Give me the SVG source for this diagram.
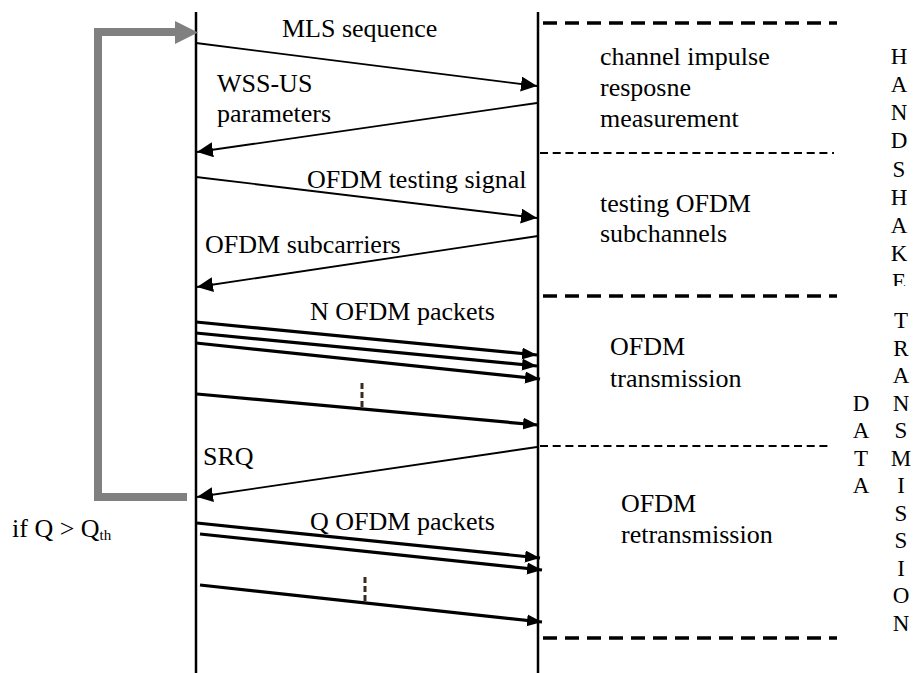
<svg xmlns="http://www.w3.org/2000/svg" width="918" height="673" viewBox="0 0 918 673">
  <style>
    text { font-family: "Liberation Serif", "Times New Roman", serif; font-size: 26px; fill: #000; }
    .life { stroke: #000; stroke-width: 2.5; fill: none; }
    .msg { stroke: #000; stroke-width: 1.8; fill: none; marker-end: url(#arrow); }
    .pkt { stroke: #000; stroke-width: 3.2; fill: none; marker-end: url(#arrowPkt); }
    .dots { stroke: #3a2a20; stroke-width: 3; stroke-dasharray: 6 3; fill: none; }
    .thick-div { stroke: #000; stroke-width: 3.5; stroke-dasharray: 14 8; fill: none; }
    .thin-div { stroke: #000; stroke-width: 1.8; stroke-dasharray: 8 4.7; fill: none; }
    .loop { stroke: #808080; stroke-width: 8; fill: none; }
    .vert { text-anchor: middle; font-size: 23px; }
  </style>
  <defs>
    <marker id="arrow" markerUnits="userSpaceOnUse" markerWidth="17" markerHeight="16" refX="16" refY="7.5" orient="auto">
      <path d="M0,0 L16,7.5 L0,15 Z" fill="#000"/>
    </marker>
    <marker id="arrowPkt" markerUnits="userSpaceOnUse" markerWidth="16" markerHeight="14" refX="15" refY="6" orient="auto">
      <path d="M0,0 L15,6 L0,12 Z" fill="#000"/>
    </marker>
    <clipPath id="clipE">
      <rect x="880" y="260" width="40" height="26"/>
    </clipPath>
  </defs>

  <rect width="918" height="673" fill="#fff"/>

  <g id="lifeline-left">
    <line class="life" x1="196" y1="12" x2="196" y2="673"/>
  </g>
  <g id="lifeline-right">
    <line class="life" x1="538" y1="12" x2="538" y2="673"/>
  </g>

  <g id="feedback-loop">
    <polyline class="loop" points="187,497 98,497 98,32 176,32"/>
    <path d="M175,21 L198,32.5 L175,44 Z" fill="#808080"/>
    <text x="12" y="537">if Q &gt; Q<tspan font-size="15" dy="3">th</tspan></text>
  </g>

  <g id="phase-dividers">
    <line class="thick-div" x1="543" y1="23" x2="837" y2="23"/>
    <line class="thin-div" x1="540" y1="153" x2="834" y2="153"/>
    <line class="thick-div" x1="543" y1="296" x2="837" y2="296"/>
    <line class="thin-div" x1="540" y1="446" x2="830" y2="446"/>
    <line class="thick-div" x1="543" y1="638" x2="837" y2="638"/>
  </g>

  <g id="connectors">
    <line class="msg" x1="196" y1="43" x2="537" y2="86"/>
    <line class="msg" x1="537" y1="103" x2="197" y2="152"/>
    <line class="msg" x1="196" y1="177" x2="537" y2="218"/>
    <line class="msg" x1="538" y1="236" x2="197" y2="287"/>
    <line class="pkt" x1="196" y1="322" x2="537" y2="355"/>
    <line class="pkt" x1="196" y1="333" x2="537" y2="366"/>
    <line class="pkt" x1="196" y1="343" x2="540" y2="379"/>
    <line class="pkt" x1="197" y1="394" x2="538" y2="425"/>
    <line class="dots" x1="362" y1="383" x2="362" y2="407"/>
    <line class="msg" x1="537" y1="447" x2="197" y2="497"/>
    <line class="pkt" x1="197" y1="523" x2="540" y2="558"/>
    <line class="pkt" x1="200" y1="534" x2="542" y2="570"/>
    <line class="dots" x1="365" y1="577" x2="365" y2="601"/>
    <line class="pkt" x1="200" y1="585" x2="542" y2="622"/>
  </g>

  <g id="message-labels">
    <text x="282" y="37">MLS sequence</text>
    <text x="217" y="92">WSS-US</text>
    <text x="217" y="122">parameters</text>
    <text x="307" y="188">OFDM testing signal</text>
    <text x="205" y="253">OFDM subcarriers</text>
    <text x="310" y="320">N OFDM packets</text>
    <text x="203" y="465">SRQ</text>
    <text x="310" y="530">Q OFDM packets</text>
  </g>

  <g id="phase-handshake-1">
    <text x="600" y="65">channel impulse</text>
    <text x="600" y="96">resposne</text>
    <text x="600" y="127">measurement</text>
  </g>
  <g id="phase-handshake-2">
    <text x="600" y="212">testing OFDM</text>
    <text x="600" y="242">subchannels</text>
  </g>
  <g id="phase-data-1">
    <text x="610" y="355">OFDM</text>
    <text x="610" y="387">transmission</text>
  </g>
  <g id="phase-data-2">
    <text x="621" y="512">OFDM</text>
    <text x="621" y="543">retransmission</text>
  </g>

  <g id="label-handshake">
    <text class="vert" x="899" y="64">H</text>
    <text class="vert" x="899" y="92">A</text>
    <text class="vert" x="899" y="120">N</text>
    <text class="vert" x="899" y="148">D</text>
    <text class="vert" x="899" y="177">S</text>
    <text class="vert" x="899" y="205">H</text>
    <text class="vert" x="899" y="233">A</text>
    <text class="vert" x="899" y="261">K</text>
    <text class="vert" x="899" y="289" clip-path="url(#clipE)">E</text>
  </g>
  <g id="label-transmission">
    <text class="vert" x="901" y="328">T</text>
    <text class="vert" x="901" y="356">R</text>
    <text class="vert" x="901" y="383">A</text>
    <text class="vert" x="901" y="411">N</text>
    <text class="vert" x="901" y="438">S</text>
    <text class="vert" x="901" y="466">M</text>
    <text class="vert" x="901" y="493">I</text>
    <text class="vert" x="901" y="521">S</text>
    <text class="vert" x="901" y="548">S</text>
    <text class="vert" x="901" y="576">I</text>
    <text class="vert" x="901" y="603">O</text>
    <text class="vert" x="901" y="631">N</text>
  </g>
  <g id="label-data">
    <text class="vert" x="861" y="411">D</text>
    <text class="vert" x="861" y="438">A</text>
    <text class="vert" x="861" y="466">T</text>
    <text class="vert" x="861" y="493">A</text>
  </g>
</svg>
